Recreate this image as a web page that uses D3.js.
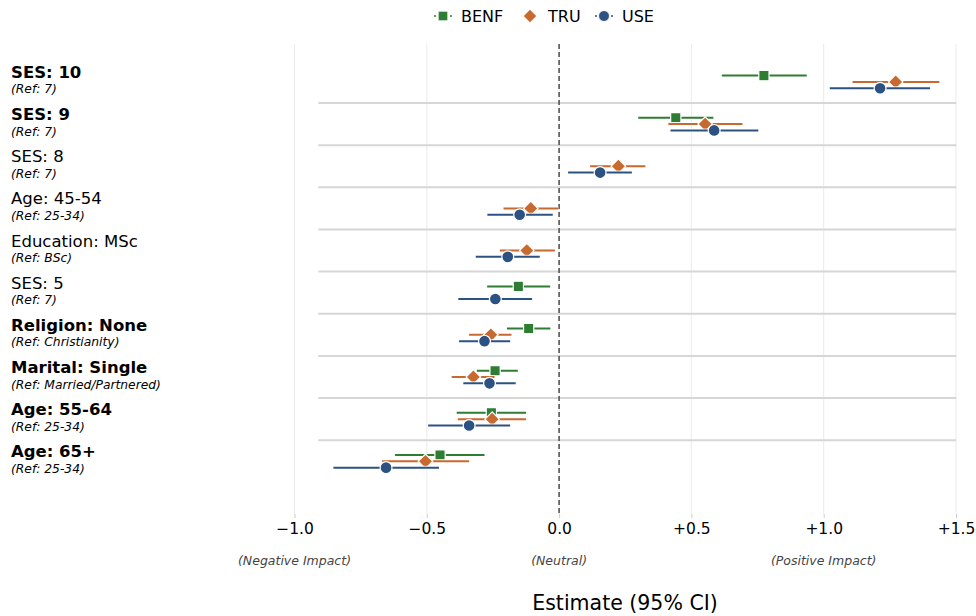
<!DOCTYPE html>
<html>
<head>
<meta charset="utf-8">
<script src="https://cdn.jsdelivr.net/npm/d3@7"></script>
<style>
  body { margin: 0; background: #fff; }
  svg { font-family: "DejaVu Sans", sans-serif; }
</style>
</head>
<body>
<svg id="chart" width="976" height="616"></svg>
<script>
// rows, top to bottom
const labels = ['SES: 10', 'SES: 9', 'SES: 8', 'Age: 45-54', 'Education: MSc',
                'SES: 5', 'Religion: None', 'Marital: Single', 'Age: 55-64', 'Age: 65+'];
const refs = ['(Ref: 7)', '(Ref: 7)', '(Ref: 7)', '(Ref: 25-34)', '(Ref: BSc)',
              '(Ref: 7)', '(Ref: Christianity)', '(Ref: Married/Partnered)', '(Ref: 25-34)', '(Ref: 25-34)'];
const bold = [true, true, false, false, false, false, true, true, true, true];

// estimate, lower, upper per row (null = not shown)
const benf = [
  [0.774, 0.615, 0.936], [0.441, 0.299, 0.583], null, null, null,
  [-0.154, -0.272, -0.034], [-0.115, -0.197, -0.033], [-0.242, -0.311, -0.156],
  [-0.256, -0.387, -0.125], [-0.450, -0.620, -0.282]
];
const tru = [
  [1.272, 1.109, 1.437], [0.552, 0.413, 0.693], [0.224, 0.117, 0.326],
  [-0.107, -0.210, -0.003], [-0.122, -0.224, -0.016], null,
  [-0.258, -0.340, -0.180], [-0.324, -0.406, -0.244],
  [-0.253, -0.383, -0.125], [-0.505, -0.669, -0.340]
];
const use = [
  [1.213, 1.023, 1.402], [0.586, 0.421, 0.753], [0.155, 0.034, 0.275],
  [-0.149, -0.271, -0.024], [-0.194, -0.315, -0.073], [-0.241, -0.381, -0.102],
  [-0.282, -0.378, -0.185], [-0.263, -0.362, -0.164],
  [-0.340, -0.495, -0.185], [-0.654, -0.853, -0.454]
];
const xTicks = [-1.0, -0.5, 0.0, 0.5, 1.0, 1.5];
const notes = [[-1.0, '(Negative Impact)'], [0, '(Neutral)'], [1.0, '(Positive Impact)']];

const series = [
  {name: 'BENF', data: benf, color: '#2e7d32', shape: d3.symbolSquare, size: 105, rot: 0, off: -0.15},
  {name: 'TRU', data: tru, color: '#c8692f', shape: d3.symbolSquare, size: 105, rot: 45, off: 0},
  {name: 'USE', data: use, color: '#2c5282', shape: d3.symbolCircle, size: 110, rot: 0, off: 0.15}
];

const svg = d3.select('#chart');
const x = d3.scaleLinear().domain([-1.0, 1.5]).range([294.5, 956]);
const y = d3.scaleLinear().domain([-0.9, 10.25]).range([44, 514]);

// vertical gridlines
svg.append('g').selectAll('line').data(xTicks).join('line')
  .attr('x1', d => x(d)).attr('x2', d => x(d))
  .attr('y1', y(-0.9)).attr('y2', y(10.25))
  .attr('stroke', '#ebebeb').attr('stroke-width', 1);

// row separators
svg.append('g').selectAll('line').data(d3.range(labels.length - 1)).join('line')
  .attr('x1', x(-0.91)).attr('x2', x(1.5))
  .attr('y1', d => y(d + 0.5)).attr('y2', d => y(d + 0.5))
  .attr('stroke', '#d6d6d6').attr('stroke-width', 2);

// zero line
svg.append('line')
  .attr('x1', x(0)).attr('x2', x(0))
  .attr('y1', y(-0.9)).attr('y2', y(10.25))
  .attr('stroke', '#555').attr('stroke-width', 1.6)
  .attr('stroke-dasharray', '5,3');

// x axis
const xAxis = d3.axisBottom(x).tickValues(xTicks).tickSize(4).tickPadding(5)
  .tickFormat(d => d === 0 ? '0.0' : (d > 0 ? '+' : '\u2212') + Math.abs(d).toFixed(1));
const ax = svg.append('g').attr('transform', `translate(0,${y(10.25)})`).call(xAxis);
ax.select('.domain').remove();
ax.selectAll('.tick line').attr('stroke', '#ccc');
ax.selectAll('.tick text').attr('fill', '#000').style('font-size', '15.5px')
  .style('font-family', '"DejaVu Sans", sans-serif');

// impact annotations
svg.append('g').selectAll('text').data(notes).join('text')
  .attr('x', d => x(d[0])).attr('y', 565)
  .attr('text-anchor', 'middle').attr('fill', '#444')
  .style('font-size', '12.5px').style('font-style', 'italic')
  .text(d => d[1]);

svg.append('text').attr('x', 625).attr('y', 610).attr('text-anchor', 'middle')
  .style('font-size', '20.5px').text('Estimate (95% CI)');

// row labels
const lab = svg.append('g').selectAll('g').data(labels).join('g')
  .attr('transform', (d, i) => `translate(11,${y(i)})`);
lab.append('text').attr('y', -4)
  .style('font-size', '16.5px').style('font-weight', (d, i) => bold[i] ? 'bold' : 'normal')
  .text(d => d);
lab.append('text').attr('y', 11.5)
  .style('font-size', '12.3px').style('font-style', 'italic')
  .text((d, i) => refs[i]);

// CIs and points
series.forEach(s => {
  const rows = s.data.map((d, i) => d ? {i, est: d[0], lo: d[1], hi: d[2]} : null).filter(Boolean);
  const g = svg.append('g');
  g.selectAll('line.halo').data(rows).join('line').attr('class', 'halo')
    .attr('x1', d => x(d.lo)).attr('x2', d => x(d.hi))
    .attr('y1', d => y(d.i + s.off)).attr('y2', d => y(d.i + s.off))
    .attr('stroke', '#fff').attr('stroke-width', 4).attr('opacity', 0.8);
  g.selectAll('line.ci').data(rows).join('line').attr('class', 'ci')
    .attr('x1', d => x(d.lo)).attr('x2', d => x(d.hi))
    .attr('y1', d => y(d.i + s.off)).attr('y2', d => y(d.i + s.off))
    .attr('stroke', s.color).attr('stroke-width', 2);
  g.selectAll('path').data(rows).join('path')
    .attr('transform', d => `translate(${x(d.est)},${y(d.i + s.off)}) rotate(${s.rot})`)
    .attr('d', d3.symbol(s.shape, s.size))
    .attr('fill', s.color).attr('stroke', '#fff').attr('stroke-width', 1.2);
});

// legend
const leg = svg.append('g').attr('transform', 'translate(0,16)');
const legX = [443, 530, 604];
series.forEach((s, k) => {
  const g = leg.append('g').attr('transform', `translate(${legX[k]},0)`);
  if (s.name !== 'TRU') {
    g.append('line').attr('x1', -9).attr('x2', 9)
      .attr('stroke', s.color).attr('stroke-width', 1.5).attr('stroke-dasharray', '2,2');
  }
  g.append('path').attr('d', d3.symbol(s.shape, s.name === 'TRU' ? 95 : 95))
    .attr('transform', `rotate(${s.rot})`)
    .attr('fill', s.color).attr('stroke', '#fff').attr('stroke-width', 1);
  g.append('text').attr('x', 18).attr('y', 6).style('font-size', '16px').text(s.name);
});
</script>
</body>
</html>
